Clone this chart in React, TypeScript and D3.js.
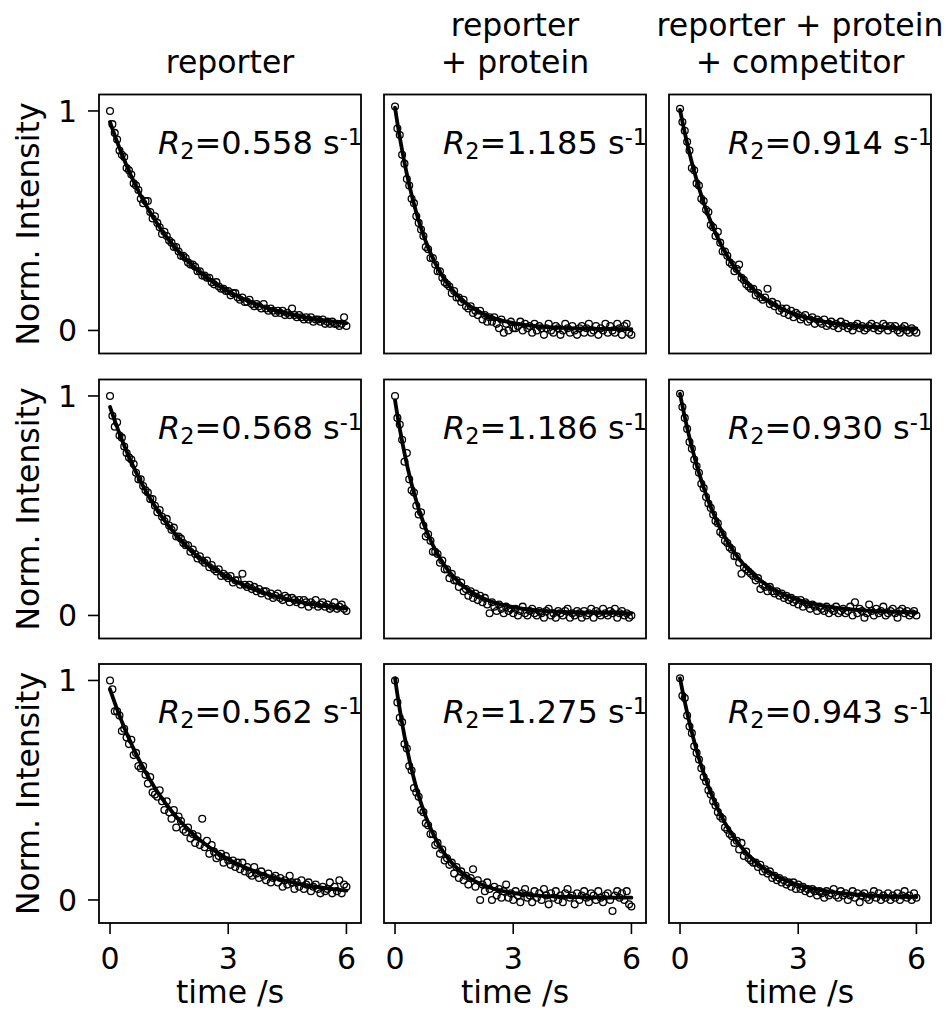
import React from 'react';
import * as d3 from 'd3';

const TIME = [0,0.06,0.12,0.18,0.24,0.3,0.36,0.42,0.48,0.54,0.6,0.66,0.72,0.78,0.84,0.9,0.96,1.02,1.08,1.14,1.2,1.26,1.32,1.38,1.44,1.5,1.56,1.62,1.68,1.74,1.8,1.86,1.92,1.98,2.04,2.1,2.16,2.22,2.28,2.34,2.4,2.46,2.52,2.58,2.64,2.7,2.76,2.82,2.88,2.94,3.0,3.06,3.12,3.18,3.24,3.3,3.36,3.42,3.48,3.54,3.6,3.66,3.72,3.78,3.84,3.9,3.96,4.02,4.08,4.14,4.2,4.26,4.32,4.38,4.44,4.5,4.56,4.62,4.68,4.74,4.8,4.86,4.92,4.98,5.04,5.1,5.16,5.22,5.28,5.34,5.4,5.46,5.52,5.58,5.64,5.7,5.76,5.82,5.88,5.94,6.0];

const COLUMN_TITLES = [["reporter"], ["reporter", "+ protein"], ["reporter + protein", "+ competitor"]];
const R2_VALUES = [[0.558, 1.185, 0.914], [0.568, 1.186, 0.930], [0.562, 1.275, 0.943]];
const FIT_AMPLITUDE = [[0.95, 1.01, 1.0], [0.95, 0.97, 1.0], [0.95, 1.0, 1.0]];
const FIT_OFFSET = [[0, 0.005, 0.005], [0, 0.01, 0.01], [0.01, 0.01, 0.01]];
const X_TICKS = [0, 3, 6];
const Y_TICKS = [0, 1];
const X_LABEL = "time /s";
const Y_LABEL = "Norm. Intensity";

const INTENSITY_R1C1 = [1.00,0.94,0.90,0.87,0.82,0.80,0.79,0.74,0.73,0.71,0.67,0.66,0.64,0.60,0.58,0.59,0.59,0.54,0.51,0.52,0.49,0.47,0.44,0.45,0.43,0.41,0.40,0.38,0.38,0.36,0.34,0.34,0.33,0.31,0.30,0.30,0.29,0.27,0.27,0.25,0.25,0.24,0.24,0.22,0.21,0.22,0.20,0.19,0.19,0.18,0.18,0.16,0.17,0.17,0.15,0.14,0.15,0.13,0.13,0.14,0.12,0.11,0.12,0.11,0.10,0.12,0.10,0.09,0.10,0.09,0.08,0.09,0.08,0.09,0.07,0.08,0.07,0.10,0.07,0.06,0.07,0.06,0.05,0.06,0.05,0.06,0.04,0.05,0.05,0.04,0.05,0.03,0.04,0.03,0.04,0.03,0.03,0.02,0.03,0.06,0.02];
const INTENSITY_R1C2 = [1.02,0.92,0.89,0.80,0.76,0.69,0.66,0.60,0.58,0.52,0.49,0.46,0.43,0.38,0.37,0.33,0.33,0.30,0.27,0.27,0.24,0.22,0.21,0.20,0.17,0.18,0.15,0.15,0.13,0.14,0.11,0.10,0.11,0.08,0.09,0.07,0.09,0.05,0.07,0.04,0.06,0.04,0.06,0.03,0.01,0.05,-0.01,0.03,0.00,0.04,0.01,0.01,0.02,0.04,0.00,0.03,0.01,0.02,-0.01,0.03,0.00,0.02,0.01,-0.02,0.01,0.03,0.00,-0.01,0.02,0.01,-0.02,0.00,0.03,0.01,-0.01,0.02,0.00,-0.02,0.01,0.02,-0.01,0.01,0.03,-0.01,0.00,0.02,-0.02,0.01,0.00,0.03,-0.01,0.02,0.00,-0.01,0.03,0.01,-0.02,0.02,0.03,-0.01,-0.02];
const INTENSITY_R1C3 = [1.01,0.95,0.91,0.86,0.82,0.74,0.73,0.67,0.66,0.60,0.59,0.55,0.54,0.48,0.47,0.43,0.45,0.40,0.36,0.36,0.34,0.31,0.30,0.27,0.28,0.30,0.24,0.23,0.21,0.20,0.19,0.19,0.16,0.17,0.15,0.14,0.15,0.19,0.12,0.13,0.11,0.12,0.09,0.10,0.08,0.10,0.07,0.09,0.06,0.08,0.07,0.05,0.06,0.07,0.04,0.05,0.06,0.03,0.05,0.04,0.03,0.05,0.02,0.03,0.04,0.02,0.03,0.01,0.04,0.02,0.03,0.01,0.02,0.00,0.02,0.03,0.01,0.02,0.00,0.01,0.02,0.03,0.01,0.02,0.00,0.01,0.03,0.02,0.00,0.02,0.01,0.02,0.00,-0.01,0.01,0.02,0.00,-0.01,0.01,0.00,-0.01];
const INTENSITY_R2C1 = [1.00,0.91,0.86,0.88,0.82,0.81,0.77,0.74,0.72,0.71,0.69,0.65,0.62,0.62,0.59,0.57,0.56,0.53,0.53,0.50,0.47,0.48,0.45,0.43,0.44,0.41,0.39,0.40,0.36,0.36,0.35,0.33,0.32,0.32,0.29,0.30,0.28,0.26,0.27,0.25,0.24,0.25,0.22,0.23,0.21,0.20,0.21,0.18,0.19,0.18,0.17,0.18,0.15,0.16,0.16,0.14,0.19,0.14,0.13,0.14,0.12,0.13,0.11,0.12,0.10,0.11,0.11,0.09,0.10,0.08,0.09,0.10,0.08,0.07,0.09,0.08,0.06,0.08,0.07,0.06,0.07,0.05,0.07,0.06,0.04,0.06,0.05,0.07,0.04,0.05,0.06,0.04,0.05,0.03,0.04,0.06,0.03,0.04,0.05,0.03,0.02];
const INTENSITY_R2C2 = [1.00,0.90,0.87,0.80,0.70,0.74,0.62,0.57,0.56,0.50,0.46,0.47,0.41,0.36,0.37,0.34,0.29,0.29,0.28,0.24,0.25,0.21,0.21,0.17,0.19,0.16,0.16,0.13,0.15,0.11,0.12,0.09,0.11,0.08,0.10,0.07,0.09,0.06,0.08,0.05,0.01,0.06,0.04,0.02,0.05,0.03,0.01,0.04,0.02,0.03,0.01,0.03,0.00,0.02,0.04,0.01,0.00,0.02,0.03,0.01,0.00,0.02,0.01,-0.01,0.02,0.03,0.00,0.01,-0.01,0.02,0.01,0.00,0.02,0.03,-0.01,0.01,0.00,0.02,0.01,-0.01,0.02,0.00,0.01,0.03,-0.01,0.02,0.01,0.00,0.03,0.01,0.00,0.02,0.01,0.03,-0.01,0.01,0.02,0.00,0.01,-0.01,0.00];
const INTENSITY_R2C3 = [1.01,0.95,0.90,0.85,0.79,0.76,0.71,0.68,0.65,0.60,0.58,0.54,0.51,0.49,0.46,0.43,0.42,0.38,0.37,0.34,0.33,0.31,0.30,0.27,0.27,0.24,0.19,0.22,0.21,0.20,0.19,0.18,0.16,0.17,0.12,0.14,0.13,0.11,0.13,0.11,0.10,0.11,0.09,0.10,0.08,0.09,0.07,0.08,0.06,0.07,0.05,0.07,0.04,0.06,0.05,0.03,0.05,0.04,0.02,0.04,0.03,0.02,0.04,0.01,0.03,0.02,0.04,0.01,0.02,0.03,0.01,0.02,0.04,0.00,0.06,0.01,0.03,0.02,-0.01,0.01,0.05,0.02,0.00,0.03,0.01,0.02,0.04,0.00,0.01,0.02,0.03,0.01,-0.01,0.02,0.03,0.01,0.02,0.00,0.01,0.02,0.00];
const INTENSITY_R3C1 = [1.00,0.96,0.86,0.86,0.84,0.77,0.78,0.74,0.71,0.73,0.66,0.67,0.61,0.60,0.61,0.57,0.53,0.56,0.49,0.48,0.47,0.50,0.45,0.41,0.45,0.40,0.37,0.41,0.33,0.38,0.36,0.32,0.31,0.33,0.28,0.30,0.26,0.29,0.25,0.37,0.24,0.27,0.21,0.25,0.22,0.19,0.20,0.21,0.17,0.20,0.18,0.16,0.18,0.15,0.17,0.14,0.17,0.13,0.15,0.12,0.11,0.15,0.12,0.10,0.13,0.11,0.09,0.12,0.08,0.10,0.11,0.08,0.10,0.06,0.09,0.07,0.11,0.08,0.05,0.08,0.06,0.09,0.05,0.07,0.08,0.04,0.06,0.07,0.05,0.03,0.06,0.04,0.05,0.08,0.03,0.06,0.04,0.09,0.03,0.07,0.06];
const INTENSITY_R3C2 = [1.00,0.90,0.83,0.81,0.71,0.69,0.61,0.59,0.51,0.49,0.47,0.41,0.40,0.35,0.34,0.30,0.30,0.25,0.26,0.21,0.23,0.18,0.19,0.16,0.17,0.12,0.15,0.10,0.13,0.09,0.11,0.07,0.10,0.14,0.06,0.09,0.00,0.07,0.04,0.08,0.05,0.00,0.06,0.02,0.05,0.01,0.04,0.07,0.01,0.03,0.00,0.04,0.02,-0.01,0.03,0.05,0.01,0.02,-0.01,0.04,0.01,0.03,0.00,0.05,0.02,-0.02,0.03,0.01,0.04,0.00,0.02,-0.01,0.03,0.05,0.01,0.02,-0.02,0.03,0.00,0.02,0.04,0.01,-0.01,0.03,0.02,0.00,0.04,0.01,-0.01,0.02,0.03,0.00,-0.05,0.02,0.04,0.01,0.03,0.00,0.04,-0.02,-0.03];
const INTENSITY_R3C3 = [1.01,0.93,0.92,0.84,0.79,0.76,0.70,0.67,0.64,0.60,0.56,0.54,0.50,0.48,0.45,0.43,0.40,0.38,0.37,0.33,0.32,0.30,0.29,0.26,0.27,0.23,0.26,0.20,0.22,0.19,0.18,0.17,0.17,0.15,0.16,0.13,0.14,0.12,0.13,0.10,0.11,0.09,0.10,0.08,0.09,0.07,0.08,0.06,0.08,0.05,0.07,0.05,0.06,0.04,0.05,0.03,0.05,0.04,0.02,0.04,0.03,0.01,0.04,0.02,0.03,0.05,0.02,0.01,0.04,0.02,0.03,0.00,0.02,0.04,0.01,0.03,-0.01,0.02,0.03,0.01,0.00,0.02,0.04,0.01,0.03,0.00,0.02,0.01,0.03,0.00,0.02,0.01,0.03,0.00,0.02,0.04,0.01,0.02,0.00,0.03,0.01];

const INTENSITY = [
  [INTENSITY_R1C1, INTENSITY_R1C2, INTENSITY_R1C3],
  [INTENSITY_R2C1, INTENSITY_R2C2, INTENSITY_R2C3],
  [INTENSITY_R3C1, INTENSITY_R3C2, INTENSITY_R3C3],
];

const W = 948;
const H = 1010;
const COL_LEFT = [99, 384, 669];
const ROW_TOP = [94.5, 379.5, 664];
const PW = 262;
const PH = 259;
const FONT = "'DejaVu Sans', Verdana, sans-serif";
const FS_TITLE = 31.5;
const FS_R2 = 32;
const FS_LABEL = 31.5;
const FS_TICK = 30;

function Panel({ row, col }: { row: number; col: number }) {
  const left = COL_LEFT[col];
  const top = ROW_TOP[row];
  const x = d3.scaleLinear().domain([-0.28, 6.37]).range([left, left + PW]);
  const y = d3.scaleLinear().domain([-0.105, 1.075]).range([top + PH, top]);
  const data = INTENSITY[row][col];
  const A = FIT_AMPLITUDE[row][col];
  const k = R2_VALUES[row][col];
  const c = FIT_OFFSET[row][col];
  const tFit = d3.range(0, 6.0001, 0.02);
  const line = d3
    .line<number>()
    .x((t) => x(t))
    .y((t) => y(A * Math.exp(-k * t) + c));
  const clipId = `clip-${row}-${col}`;
  return (
    <g>
      <defs>
        <clipPath id={clipId}>
          <rect x={left} y={top} width={PW} height={PH} />
        </clipPath>
      </defs>
      <g clipPath={`url(#${clipId})`}>
        {data.map((v, i) => (
          <circle key={i} cx={x(TIME[i])} cy={y(v)} r={3.4} fill="none" stroke="#000" strokeWidth={1.3} />
        ))}
        <path d={line(tFit) || ''} fill="none" stroke="#000" strokeWidth={3.8} strokeLinecap="round" />
      </g>
      <rect x={left} y={top} width={PW} height={PH} fill="none" stroke="#000" strokeWidth={1.8} />
      <text x={left + PW + 1} y={top + 59} textAnchor="end" fontFamily={FONT} fontSize={FS_R2}>
        <tspan fontStyle="italic">R</tspan>
        <tspan fontSize={FS_R2 * 0.7} dy={5}>2</tspan>
        <tspan dy={-5}>={R2_VALUES[row][col].toFixed(3)} s</tspan>
        <tspan fontSize={FS_R2 * 0.7} dy={-9}>-1</tspan>
      </text>
      {col === 0 &&
        Y_TICKS.map((v) => (
          <g key={v}>
            <line x1={left - 11} x2={left} y1={y(v)} y2={y(v)} stroke="#000" strokeWidth={1.6} />
            <text x={left - 22} y={y(v)} dy="0.36em" textAnchor="end" fontFamily={FONT} fontSize={FS_TICK}>
              {v}
            </text>
          </g>
        ))}
      {col === 0 && (
        <text
          transform={`translate(38.5, ${top + PH / 2}) rotate(-90)`}
          textAnchor="middle"
          fontFamily={FONT}
          fontSize={FS_LABEL}
        >
          {Y_LABEL}
        </text>
      )}
      {row === 2 &&
        X_TICKS.map((v) => (
          <g key={v}>
            <line x1={x(v)} x2={x(v)} y1={top + PH} y2={top + PH + 11} stroke="#000" strokeWidth={1.6} />
            <text x={x(v)} y={969} textAnchor="middle" fontFamily={FONT} fontSize={FS_TICK}>
              {v}
            </text>
          </g>
        ))}
      {row === 2 && (
        <text x={left + PW / 2} y={1003} textAnchor="middle" fontFamily={FONT} fontSize={FS_LABEL}>
          {X_LABEL}
        </text>
      )}
    </g>
  );
}

export default function App() {
  return (
    <svg
      width={W}
      height={H}
      viewBox={`0 0 ${W} ${H}`}
      style={{ position: 'absolute', left: 0, top: 0, background: '#fff' }}
    >
      <rect x={0} y={0} width={W} height={H} fill="#fff" />
      {COLUMN_TITLES.map((lines, col) =>
        lines.map((txt, li) => (
          <text
            key={`${col}-${li}`}
            x={COL_LEFT[col] + PW / 2}
            y={73 - (lines.length - 1 - li) * 37}
            textAnchor="middle"
            fontFamily={FONT}
            fontSize={FS_TITLE}
          >
            {txt}
          </text>
        ))
      )}
      {[0, 1, 2].map((row) => [0, 1, 2].map((col) => <Panel key={`${row}-${col}`} row={row} col={col} />))}
    </svg>
  );
}
